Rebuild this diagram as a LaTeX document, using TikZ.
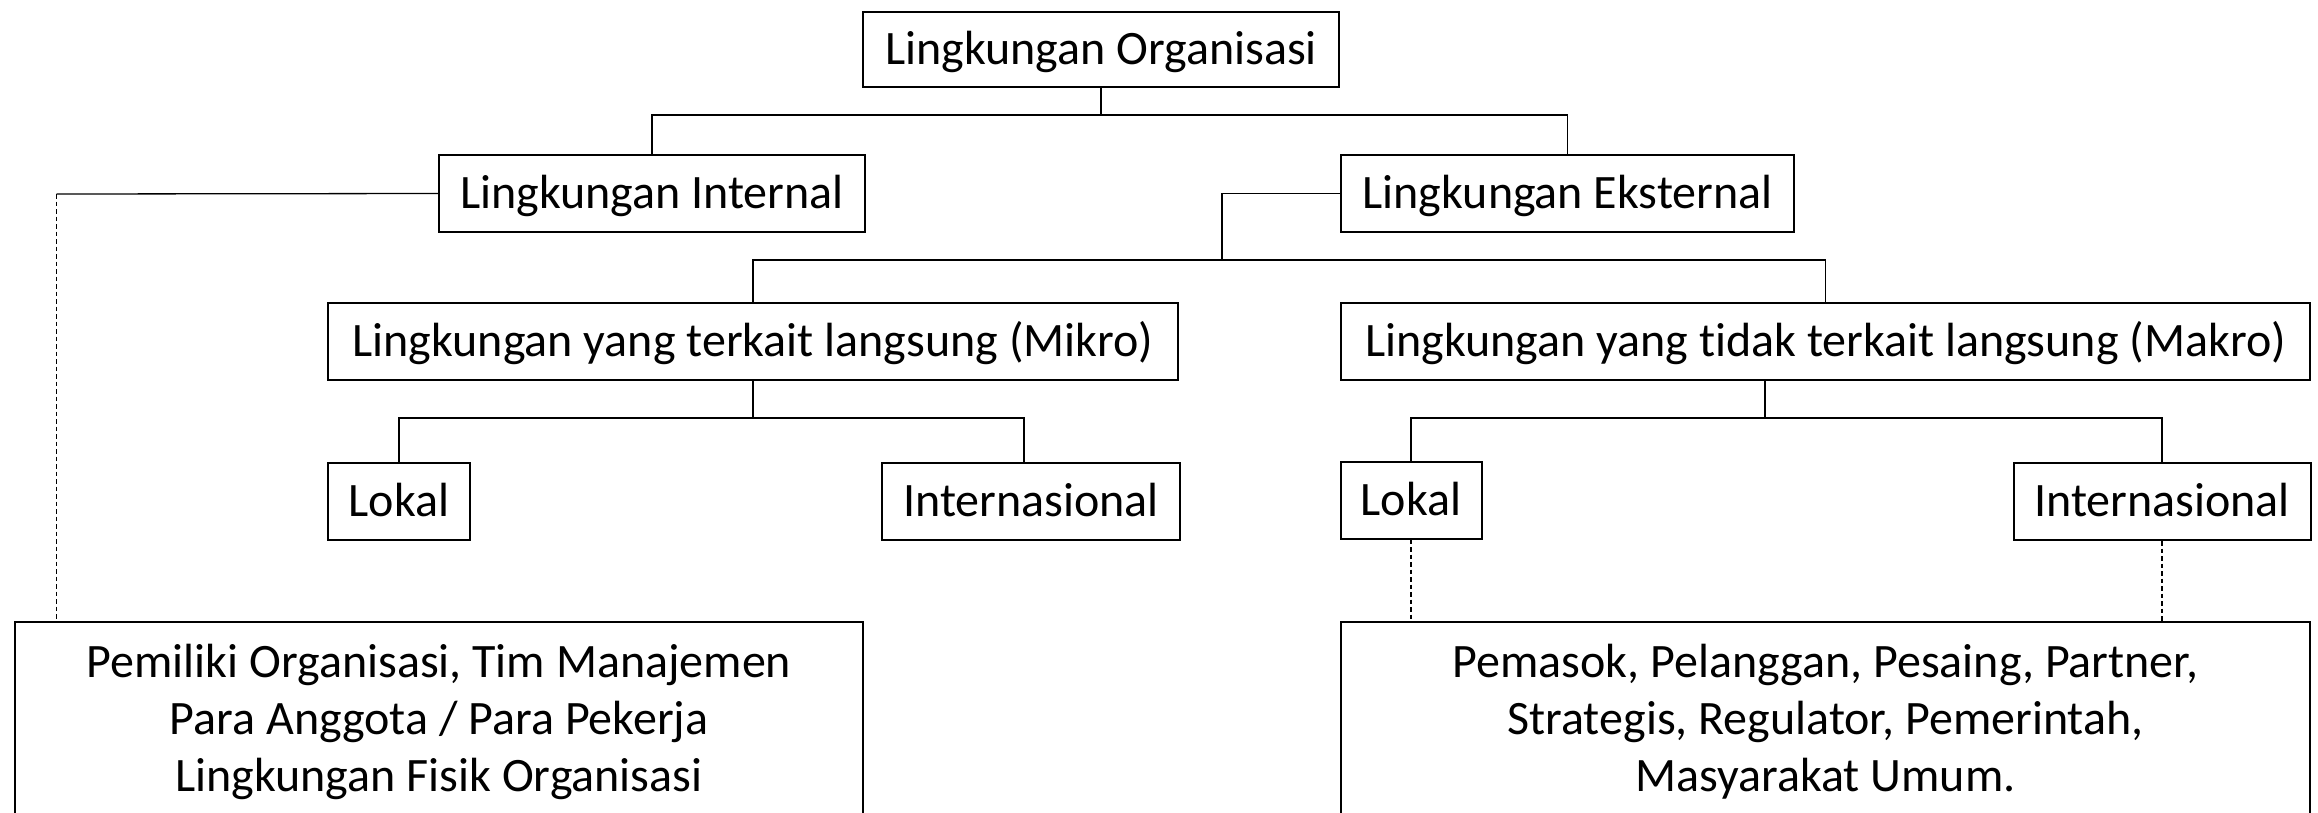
\documentclass[tikz,border=0pt]{standalone}
\usepackage{fontspec}
\setmainfont{Carlito}[Ligatures=NoCommon]
\usetikzlibrary{calc}
\begin{document}
\begin{tikzpicture}[x=1pt,y=-1pt,
  box/.style={draw, line width=2pt, inner sep=0pt, text height=36pt, text depth=6pt,
    font=\fontsize{48}{57}\selectfont},
  bigbox/.style={draw, line width=2pt, inner xsep=0pt, inner ysep=0pt, align=center,
    font=\fontsize{48}{57}\selectfont},
  conn/.style={line width=1.3pt},
  dconn/.style={line width=1.3pt, dash pattern=on 4.5pt off 3pt}]
\useasboundingbox (0,0) rectangle (2318,812);
\fill[white] (0,0) rectangle (2318,812);
% boxes
\node[box, minimum width=476pt, minimum height=75pt] (top) at (1101,49.5) {Lingkungan Organisasi};
\node[box, minimum width=426pt, minimum height=77pt] (int) at (652,193.5) {Lingkungan Internal};
\node[box, minimum width=453pt, minimum height=77pt] (ext) at (1567.5,193.5) {Lingkungan Eksternal};
\node[box, minimum width=850pt, minimum height=77pt] (mikro) at (753,341.5) {Lingkungan yang terkait langsung (Mikro)};
\node[box, minimum width=969pt, minimum height=77pt] (makro) at (1825.5,341.5) {Lingkungan yang tidak terkait langsung (Makro)};
\node[box, minimum width=142pt, minimum height=77pt] (lok1) at (399,501.5) {Lokal};
\node[box, minimum width=298pt, minimum height=77pt] (int1) at (1031,501.5) {Internasional};
\node[box, minimum width=141pt, minimum height=77pt] (lok2) at (1411,500) {Lokal};
\node[box, minimum width=297pt, minimum height=77pt] (int2) at (2162,501.5) {Internasional};
\node[bigbox, minimum width=848pt, minimum height=200pt] (low1) at (439,721.5)
  {Pemiliki Organisasi, Tim Manajemen\\Para Anggota / Para Pekerja\\Lingkungan Fisik Organisasi};
\node[bigbox, minimum width=969pt, minimum height=200pt] (low2) at (1825.5,721.5)
  {Pemasok, Pelanggan, Pesaing, Partner,\\Strategis, Regulator, Pemerintah,\\Masyarakat Umum.};
% bus coordinates
\coordinate (bus0) at (1101,115);
\coordinate (c1) at (56.5,194);
\coordinate (bus2) at (1222,260);
\coordinate (bus3) at (753,418);
\coordinate (bus4) at (1765,418);
% connectors
\draw[conn] (top.south) -- (bus0);
\draw[conn] (int.north) |- (bus0) -| (ext.north);
\draw[conn] (int.west) -- (c1);
\draw[dconn] (c1) -- (c1 |- low1.north);
\draw[conn] (ext.west) -| (bus2);
\draw[conn] (mikro.north) |- (bus2) -| (makro.north);
\draw[conn] (mikro.south) -- (bus3);
\draw[conn] (lok1.north) |- (bus3) -| ([xshift=-7pt]int1.north);
\draw[conn] (bus4 |- makro.south) -- (bus4);
\draw[conn] (lok2.north) |- (bus4) -| (int2.north);
\draw[dconn] (lok2.south) -- (lok2.south |- low2.north);
\draw[dconn] (int2.south) -- (int2.south |- low2.north);
\end{tikzpicture}
\end{document}
